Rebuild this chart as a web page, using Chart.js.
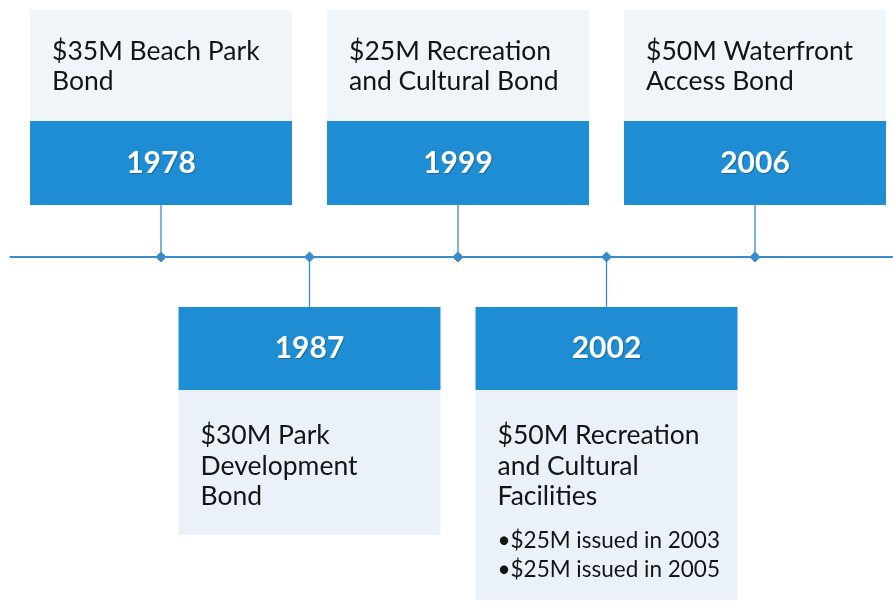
<!DOCTYPE html>
<html>
<head>
<meta charset="utf-8">
<script src="https://cdn.jsdelivr.net/npm/chart.js@4"></script>
<style>
  html, body { margin: 0; padding: 0; background: #fff; }
  #wrap { width: 893px; height: 602px; }
</style>
</head>
<body>
<div id="wrap"><canvas id="timeline"></canvas></div>
<script>
// timeline data
var years = ['1978', '1987', '1999', '2002', '2006'];
var sides = ['top', 'bottom', 'top', 'bottom', 'top'];
var titles = [
  ['$35M Beach Park', 'Bond'],
  ['$30M Park', 'Development', 'Bond'],
  ['$25M Recreation', 'and Cultural Bond'],
  ['$50M Recreation', 'and Cultural', 'Facilities'],
  ['$50M Waterfront', 'Access Bond']
];
var bullets = [[], [], [], ['\u2022$25M issued in 2003', '\u2022$25M issued in 2005'], []];
// depth of the light text panel under/over each blue year box (in y units)
var panelDepth = [111, 145, 111, 210, 111];

var blue = '#1e8dd3';
var lineBlue = '#3a8dcc';

var positions = years.map(function(y, i) { return i; });

var axisLine = [{x: -1.02, y: 0}, {x: 4.93, y: 0}];
var diamonds = positions.map(function(p) { return {x: p, y: 0}; });
var connectors = [];
positions.forEach(function(p, i) {
  if (sides[i] == 'top') {
    connectors.push({x: p, y: 0}, {x: p, y: 52}, {x: p, y: null});
  } else {
    connectors.push({x: p, y: 0}, {x: p, y: -50}, {x: p, y: null});
  }
});

var boxesPlugin = {
  id: 'boxes',
  beforeDatasetsDraw: function(chart) {
    var ctx = chart.ctx;
    var xs = chart.scales.x, ys = chart.scales.y;
    var half = 0.882;
    ctx.save();
    positions.forEach(function(p, i) {
      var left = xs.getPixelForValue(p - half);
      var right = xs.getPixelForValue(p + half);
      var w = right - left;
      var blueTop, blueBot, panTop, panBot;
      if (sides[i] == 'top') {
        blueTop = ys.getPixelForValue(136); blueBot = ys.getPixelForValue(52);
        panTop = ys.getPixelForValue(136 + panelDepth[i]); panBot = blueTop;
      } else {
        blueTop = ys.getPixelForValue(-50); blueBot = ys.getPixelForValue(-133);
        panTop = blueBot; panBot = ys.getPixelForValue(-133 - panelDepth[i]);
      }
      ctx.fillStyle = sides[i] == 'top' ? '#f0f5fa' : '#eaf1f9';
      ctx.fillRect(left, panTop, w, panBot - panTop);
      ctx.fillStyle = blue;
      ctx.fillRect(left, blueTop, w, blueBot - blueTop);

      // year label
      ctx.font = 'bold 30px Lato, "Open Sans", sans-serif';
      ctx.textAlign = 'center';
      ctx.textBaseline = 'middle';
      ctx.fillStyle = 'rgba(0,0,0,0.25)';
      ctx.fillText(years[i], (left + right) / 2 + 1, (blueTop + blueBot) / 2 + 1);
      ctx.fillStyle = '#ffffff';
      ctx.fillText(years[i], (left + right) / 2, (blueTop + blueBot) / 2);

      // title text
      ctx.textAlign = 'left';
      ctx.textBaseline = 'alphabetic';
      ctx.fillStyle = '#141414';
      ctx.font = '26.5px Lato, "Open Sans", sans-serif';
      var tx = left + 22;
      var ty = sides[i] == 'top' ? panTop + 50 : panTop + 54;
      var step = sides[i] == 'top' ? 30 : 30.5;
      titles[i].forEach(function(line, k) {
        ctx.fillText(line, tx, ty + k * step);
      });
      ctx.font = '22.5px Lato, "Open Sans", sans-serif';
      var by = ty + titles[i].length * step + 12;
      bullets[i].forEach(function(line, k) {
        ctx.fillText(line, tx, by + k * 29);
      });
    });
    ctx.restore();
  }
};

new Chart(document.getElementById('timeline'), {
  type: 'scatter',
  data: {
    datasets: [
      {
        data: axisLine,
        showLine: true,
        borderColor: lineBlue,
        borderWidth: 2,
        pointRadius: 0
      },
      {
        data: connectors,
        showLine: true,
        spanGaps: false,
        borderColor: lineBlue,
        borderWidth: 1.3,
        pointRadius: 0
      },
      {
        data: diamonds,
        pointStyle: 'rectRot',
        pointRadius: 6,
        backgroundColor: lineBlue,
        borderColor: '#ffffff',
        borderWidth: 1
      }
    ]
  },
  options: {
    responsive: true,
    maintainAspectRatio: false,
    animation: false,
    layout: { padding: 0, autoPadding: false },
    plugins: {
      legend: { display: false },
      tooltip: { enabled: false }
    },
    scales: {
      x: { type: 'linear', min: -161 / 148.5, max: (893 - 161) / 148.5, display: false },
      y: { type: 'linear', min: -345, max: 257, display: false }
    }
  },
  plugins: [boxesPlugin]
});
</script>
</body>
</html>
